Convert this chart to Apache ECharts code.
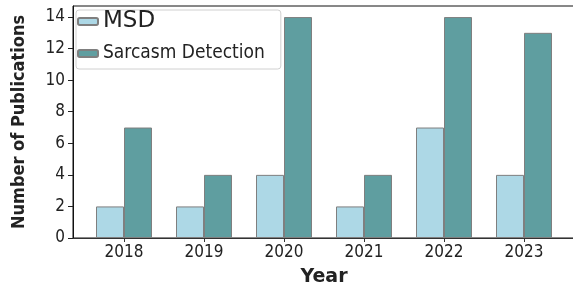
<!DOCTYPE html>
<html>
<head>
<meta charset="utf-8">
<script src="https://cdn.jsdelivr.net/npm/echarts@6/dist/echarts.min.js"></script>
<style>
  html, body { margin: 0; padding: 0; background: #fff; }
  #chart { width: 573px; height: 288px; }
</style>
</head>
<body>
<div id="chart"></div>
<script>
// data
const years = ['2018', '2019', '2020', '2021', '2022', '2023']
const msdCounts = [2, 2, 4, 2, 7, 4]
const sarcasmCounts = [7, 4, 14, 4, 14, 13]
const yTicks = [0, 2, 4, 6, 8, 10, 12, 14]

const chart = echarts.init(document.getElementById('chart'))

const option = {
  animation: false,
  textStyle: { fontFamily: 'DejaVu Sans' },
  // grid 0 = the frame (spines, y ticks), grid 1 = the bars
  grid: [
    { left: 73, top: 6, width: 502, height: 232, outerBoundsMode: 'none', show: true, borderColor: '#111', borderWidth: 1, backgroundColor: 'transparent' },
    { left: 84, top: 6, width: 480, height: 232, outerBoundsMode: 'none' }
  ],
  legend: {
    orient: 'vertical',
    left: 76,
    top: 10,
    padding: [0, 16, 6, 1],
    itemWidth: 20,
    itemHeight: 7,
    itemGap: 11,
    backgroundColor: 'rgba(255,255,255,0.85)',
    borderColor: '#d0d0d0',
    borderWidth: 1,
    borderRadius: 3,
    data: ['MSD', 'Sarcasm Detection'],
    formatter: function (name) {
      return name === 'MSD' ? '{a|' + name + '}' : '{b|' + name + '}'
    },
    textStyle: {
      rich: {
        a: { fontFamily: 'DejaVu Sans', fontSize: 23, lineHeight: 22, color: '#222' },
        b: { fontFamily: 'DejaVu Sans Condensed', fontSize: 19, lineHeight: 22, color: '#222' }
      }
    }
  },
  xAxis: [
    {
      type: 'value', gridIndex: 0, min: 0, max: 1,
      axisLine: { show: true, lineStyle: { color: '#333', width: 1 } },
      axisTick: { show: false }, axisLabel: { show: false }, splitLine: { show: false }
    },
    {
      type: 'category', gridIndex: 1, data: years,
      axisLine: { show: false },
      axisTick: { show: true, alignWithLabel: true, length: 4, lineStyle: { color: '#333' } },
      axisLabel: { margin: 6, fontFamily: 'DejaVu Sans Condensed', fontSize: 17, color: '#222' },
      name: 'Year',
      nameLocation: 'middle',
      nameGap: 30,
      nameTextStyle: { fontFamily: 'DejaVu Sans', fontWeight: 'bold', fontSize: 19, color: '#222' }
    }
  ],
  yAxis: [
    {
      type: 'value', gridIndex: 0, min: 0, max: 14.7,
      axisLine: { show: true, lineStyle: { color: '#111', width: 1 } },
      axisTick: { show: true, length: 5, customValues: yTicks, lineStyle: { color: '#222' } },
      axisLabel: { margin: 8, customValues: yTicks, fontFamily: 'DejaVu Sans Condensed', fontSize: 17, color: '#222' },
      splitLine: { show: false },
      name: 'Number of Publications',
      nameLocation: 'middle',
      nameGap: 45,
      nameTextStyle: { fontFamily: 'DejaVu Sans Condensed', fontWeight: 'bold', fontSize: 18, color: '#222' }
    },
    {
      type: 'value', gridIndex: 1, min: 0, max: 14.7, show: false
    }
  ],
  series: [
    {
      name: 'MSD',
      type: 'bar',
      xAxisIndex: 1,
      yAxisIndex: 1,
      data: msdCounts,
      barWidth: 28,
      barGap: '0%',
      itemStyle: { color: '#add8e6', borderColor: '#7f7f7f', borderWidth: 1 }
    },
    {
      name: 'Sarcasm Detection',
      type: 'bar',
      xAxisIndex: 1,
      yAxisIndex: 1,
      data: sarcasmCounts,
      barWidth: 28,
      barGap: '0%',
      itemStyle: { color: '#5f9ea0', borderColor: '#7f7f7f', borderWidth: 1 }
    }
  ]
}

chart.setOption(option)
</script>
</body>
</html>
